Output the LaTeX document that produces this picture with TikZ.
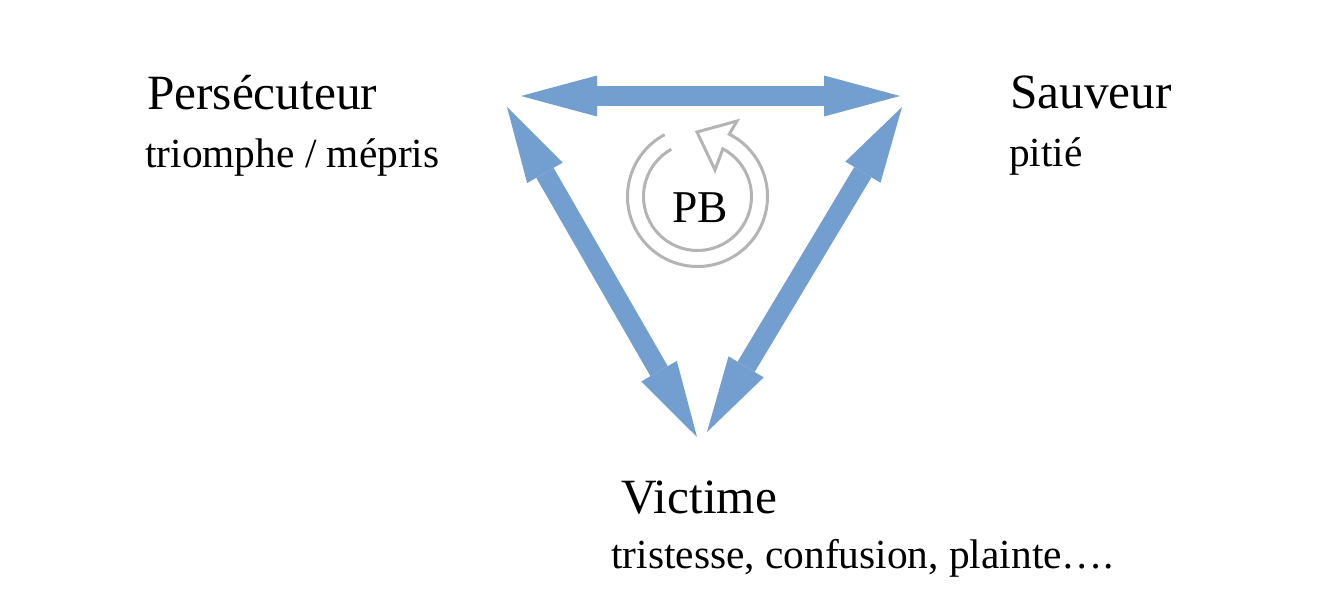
\documentclass[tikz,border=0pt]{standalone}
\usepackage{fontspec}
\setmainfont{Liberation Serif}
\usetikzlibrary{arrows.meta,calc}
\definecolor{arrowblue}{RGB}{114,159,207}
\definecolor{cyclegray}{RGB}{180,180,180}
\begin{document}
\begin{tikzpicture}[x=1pt,y=-1pt,
  role/.style={anchor=base west, inner sep=0pt, font=\fontsize{49.3}{54}\selectfont},
  feel/.style={anchor=base west, inner sep=0pt, font=\fontsize{41.4}{46}\selectfont},
  link/.style={draw=arrowblue, line width=20pt, {Triangle[width=41pt,length=76pt,line width=0pt]}-{Triangle[width=41pt,length=76pt,line width=0pt]}},
  cyclearrow/.style={draw=cyclegray, line width=3pt, line join=miter},
  ]
\useasboundingbox[fill=white] (0,0) rectangle (1327,599);

% roles
\node[role] (pers)  at (147,110) {Persécuteur};
\node[feel] (persf) at (145,167) {triomphe / mépris};
\node[role] (sauv)  at (1010,109) {Sauveur};
\node[feel] (sauvf) at (1009,166) {pitié};
\node[role] (vict)  at (621,513) {Victime};
\node[feel] (victf) at (611,568) {tristesse, confusion, plainte….};

% arrow ends
\coordinate (pL) at (521,96);
\coordinate (sR) at (900,96);
\coordinate (pD) at (507,107);
\coordinate (vL) at (697,437);
\coordinate (sD) at (902,107);
\coordinate (vR) at (707,432);

\draw[link] (pL) -- (sR);
\draw[link] (pD) -- (vL);
\draw[link] (sD) -- (vR);

% cycle arrow
\coordinate (c) at (697.5,196.5);
\draw[cyclearrow] ($(c)+(-118:70)$) arc[start angle=-118, end angle=-423, radius=70]
  -- (737,121) -- (697,132) -- (715,170) -- ($(c)+(-422:54)$)
  arc[start angle=-422, end angle=-119, radius=54];
\node[anchor=base, inner sep=0pt, font=\fontsize{45.5}{50}\selectfont] (pb) at (700,222) {PB};
\end{tikzpicture}
\end{document}
